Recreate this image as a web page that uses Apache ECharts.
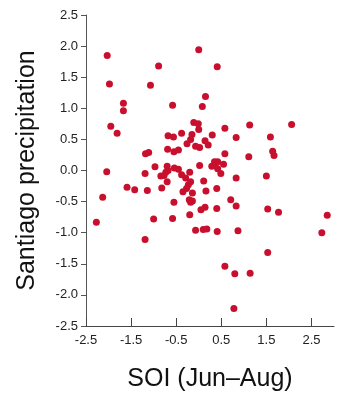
<!DOCTYPE html>
<html><head><meta charset="utf-8">
<script src="https://cdn.jsdelivr.net/npm/echarts@6/dist/echarts.min.js"></script>
<style>html,body{margin:0;padding:0;background:#fff}#c{width:360px;height:400px}</style>
</head><body><div id="c"></div>
<script>
const soi = [-2.03,0.00,-0.89,-1.98,-1.07,0.15,-1.67,-1.67,-0.58,0.08,0.41,-1.95,-1.81,-0.11,-0.01,0.00,-0.68,-0.56,-0.38,-0.15,-0.18,-0.26,-0.07,0.02,0.14,0.21,-0.69,-0.55,-0.45,-1.18,-1.11,-2.04,-1.19,-0.97,-0.70,-0.54,-0.45,0.02,-0.73,-0.68,-0.84,-0.77,-0.38,-0.29,-0.20,-0.70,-0.18,-0.23,0.11,-1.59,-1.42,-1.14,-0.82,-0.27,-0.35,-0.14,0.16,-2.13,-0.55,-0.21,-0.18,-0.14,0.05,0.14,-2.27,-1.00,-0.58,-0.20,-1.19,-0.07,0.10,0.18,0.58,1.13,2.06,0.30,0.83,1.59,0.58,1.64,1.67,1.11,0.35,0.42,0.29,0.36,0.55,0.42,0.49,0.83,1.50,0.40,0.71,0.83,0.40,1.53,1.77,2.85,0.41,0.87,2.73,1.53,0.58,0.80,1.14,0.78];
const precip = [1.85,1.94,1.68,1.39,1.37,1.19,1.08,0.96,1.05,1.03,1.67,0.71,0.60,0.77,0.75,0.66,0.56,0.54,0.60,0.58,0.50,0.43,0.39,0.37,0.48,0.41,0.34,0.30,0.33,0.27,0.29,-0.02,-0.05,0.06,0.07,0.04,0.02,0.08,-0.03,0.00,-0.09,-0.08,-0.07,-0.12,-0.03,-0.18,-0.18,-0.23,-0.17,-0.27,-0.31,-0.32,-0.28,-0.29,-0.34,-0.36,-0.33,-0.43,-0.51,-0.47,-0.51,-0.49,-0.63,-0.59,-0.83,-0.78,-0.77,-0.71,-1.11,-0.96,-0.95,-0.94,0.68,0.73,0.74,0.57,0.53,0.54,0.27,0.31,0.24,0.22,0.14,0.14,0.07,0.08,0.10,0.03,-0.05,-0.12,-0.09,-0.29,-0.47,-0.57,-0.61,-0.62,-0.67,-0.72,-0.98,-0.97,-1.00,-1.32,-1.54,-1.66,-1.65,-2.22];
const xTitle = 'SOI (Jun\u2013Aug)';
const yTitle = 'Santiago precipitation';

const points = soi.map((x, i) => [x, precip[i]]);
const font = 'Liberation Sans, Arial, sans-serif';
const chart = echarts.init(document.getElementById('c'));
chart.setOption({
  animation: false,
  grid: {left: 86, right: 26, top: 15, bottom: 74},
  xAxis: {
    type: 'value', min: -2.5, max: 3.0, interval: 1,
    name: xTitle, nameLocation: 'middle', nameGap: 41,
    nameTextStyle: {fontSize: 25, color: '#111', fontFamily: font},
    axisLine: {onZero: false, lineStyle: {color: '#444', width: 1}},
    axisTick: {show: true, inside: true, length: 8, lineStyle: {color: '#444'}},
    axisLabel: {fontSize: 13, color: '#222', fontFamily: font, margin: 8,
      formatter: v => (v > 2.9 ? '' : v.toFixed(1)), showMaxLabel: false},
    splitLine: {show: false}
  },
  yAxis: {
    type: 'value', min: -2.5, max: 2.5, interval: 0.5,
    name: yTitle, nameLocation: 'middle', nameGap: 46, nameRotate: 90,
    nameTextStyle: {fontSize: 25, color: '#111', fontFamily: font},
    axisLine: {show: true, onZero: false, lineStyle: {color: '#555', width: 1}},
    axisTick: {show: true, inside: false, length: 5, lineStyle: {color: '#555'}},
    axisLabel: {fontSize: 13, color: '#222', fontFamily: font, margin: 8,
      formatter: v => v.toFixed(1)},
    splitLine: {show: false}
  },
  series: [{
    type: 'scatter', data: points, symbolSize: 7,
    itemStyle: {color: '#c8102e', opacity: 1}
  }]
});
</script></body></html>
